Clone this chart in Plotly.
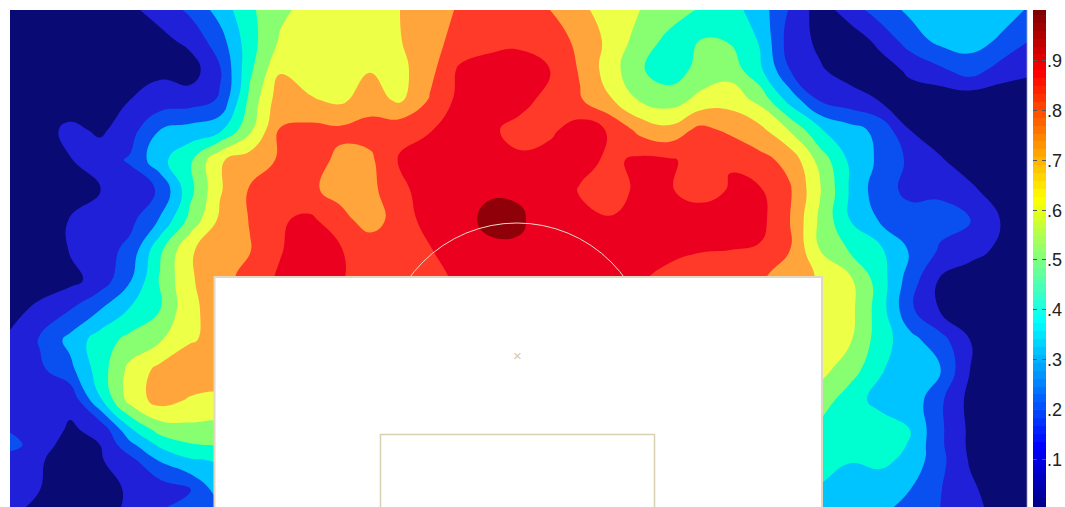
import plotly.graph_objects as go

# grid positions
x_pos = [10,40,70,100,130,160,190,220,250,280,310,340,370,400,430,460,490,520,550,580,610,640,670,700,730,760,790,820,850,880,910,940,970,1000,1030]
y_pos = [10,40,70,100,130,160,190,220,250,280,310,340,370,400,430,445,460,490,510]

# field values on an 11-band scale (band k spans k..k+1), divided by 11 for the 0-1 colour scale
row_010 = [.2,.2,.2,.3,.8,1.4,2.2,3.4,4.8,5.8,6.3,6.5,6.7,7.0,7.6,8.1,8.4,8.3,8.0,7.2,6.6,6.0,5.5,4.9,4.4,3.5,1.9,.5,1.5,2.5,3.2,3.5,3.6,3.4,2.9]
row_040 = [.1,.1,.1,.2,.4,.7,1.3,2.6,4.6,6.1,6.4,6.6,6.7,6.95,7.8,8.2,8.6,8.7,8.4,7.8,6.7,5.6,4.7,5.0,4.9,3.9,1.5,.8,.4,1.3,2.5,3.3,3.4,2.9,2.0]
row_070 = [.1,.1,.2,.4,.9,.8,.5,1.9,4.8,6.9,6.5,6.5,6.95,6.7,7.7,9.2,9.5,9.6,9.0,7.9,6.5,5.1,4.5,5.3,5.6,4.2,2.0,1.1,.6,.5,1.2,1.8,2.5,1.6,1.2]
row_100 = [.1,.1,.2,.4,1.0,1.4,1.5,2.1,5.3,7.6,7.1,6.8,7.5,6.8,8.1,9.3,9.6,9.4,8.6,8.1,7.1,5.9,5.5,6.3,6.6,5.7,3.6,1.9,1.4,.95,.5,.3,.3,.3,.3]
row_130 = [.1,.5,1.3,.8,1.6,3.0,3.4,3.8,5.8,8.05,8.3,8.2,8.4,8.7,8.95,9.4,9.2,8.6,8.8,9.5,8.9,7.7,7.3,8.3,7.8,7.3,5.9,4.1,3.4,2.7,1.0,.5,.3,.2,.2]
row_160 = [.1,.3,.95,1.6,2.1,3.7,4.8,6.9,7.5,8.1,8.4,7.8,7.8,9.1,9.5,9.6,9.4,9.2,9.4,9.4,8.8,9.2,9.1,8.7,8.92,8.3,7.7,5.6,3.8,2.8,1.8,1.1,.5,.3,.2]
row_190 = [.1,.1,.4,.95,1.5,2.1,4.7,6.9,8.1,8.5,8.2,7.6,7.7,8.8,9.4,9.7,9.85,9.9,9.5,8.9,8.4,9.3,9.1,8.4,9.1,9.1,8.1,6.1,3.9,2.4,1.75,1.85,1.2,.5,.3]
row_220 = [.1,.4,1.05,1.3,1.7,3.1,5.3,7.2,8.05,8.9,9.2,8.4,7.5,8.5,9.4,9.6,10.3,10.1,9.6,9.6,9.1,9.7,9.8,9.8,9.7,9.3,8.0,5.8,4.0,2.9,2.4,2.3,2.1,1.0,.3]
row_250 = [.1,.4,1.05,1.5,2.3,4.8,6.9,7.5,7.95,8.95,9.4,9.05,8.7,8.4,8.95,9.4,9.75,9.9,9.8,9.6,9.5,9.4,9.3,9.05,9.0,8.9,8.0,6.0,4.9,4.2,2.9,1.9,1.4,.8,.2]
row_280 = [.2,.4,.7,1.4,2.9,5.1,6.9,7.5,8.5,9.1,9.4,9.1,8.4,8.5,8.8,9.1,9.3,9.2,9.0,9.1,9.2,9.1,8.6,8.5,8.3,8.1,7.5,6.9,6.2,4.5,2.5,.9,.4,.2,.2]
row_310 = [.6,1.3,2.0,3.0,4.1,5.0,6.8,7.4,8.0,8.4,8.6,8.6,8.5,8.6,8.9,9.0,9.1,9.0,8.9,8.9,8.9,8.8,8.5,8.4,8.2,8.0,7.5,6.5,6.3,4.5,2.2,.95,.4,.2,.2]
row_340 = [1.2,2.1,3.3,4.5,5.3,5.9,6.9,7.3,7.9,8.2,8.3,8.3,8.3,8.4,8.6,8.7,8.8,8.7,8.6,8.6,8.6,8.5,8.3,8.2,8.0,7.8,7.3,6.5,6.1,4.5,3.35,2.4,1.0,.4,.3]
row_370 = [1.4,1.8,2.7,4.5,6.3,7.3,7.7,7.8,7.9,8.0,8.1,8.1,8.1,8.2,8.3,8.4,8.5,8.4,8.3,8.3,8.3,8.2,8.1,8.0,7.8,7.5,7.0,6.3,5.5,4.1,3.4,3.05,1.0,.5,.3]
row_400 = [1.3,1.4,1.2,3.9,6.4,7.4,6.9,6.7,7.2,7.6,7.9,7.9,7.9,8.0,8.1,8.2,8.2,8.2,8.1,8.1,8.0,8.0,7.9,7.7,7.5,7.2,6.8,5.6,4.4,3.7,3.7,2.2,.7,.4,.3]
row_430 = [1.9,1.4,.9,1.2,3.8,5.4,5.7,5.7,6.3,6.8,7.2,7.4,7.5,7.6,7.7,7.7,7.7,7.7,7.6,7.6,7.5,7.4,7.2,6.9,6.6,6.2,5.6,4.7,4.0,4.5,4.0,2.2,.8,.4,.3]
row_445 = [2.5,1.3,.7,1.0,2.7,4.2,4.9,5.1,5.6,6.1,6.6,6.9,7.0,7.1,7.2,7.2,7.2,7.2,7.1,7.1,7.0,6.9,6.7,6.3,6.0,5.6,5.0,4.5,4.0,4.7,3.9,2.2,.8,.4,.3]
row_460 = [1.3,1.1,.5,.9,1.7,3.1,3.9,4.1,4.9,5.4,5.9,6.3,6.5,6.6,6.7,6.7,6.7,6.7,6.6,6.5,6.4,6.2,5.9,5.6,5.3,5.0,4.6,4.4,4.05,4.3,3.7,2.3,.9,.4,.3]
row_490 = [1.1,1.0,.4,.7,1.1,1.4,1.95,3.5,4.1,4.6,5.1,5.4,5.6,5.7,5.8,5.8,5.8,5.8,5.7,5.6,5.5,5.3,5.0,4.8,4.6,4.4,4.1,3.9,3.6,3.3,3.0,2.05,1.2,.5,.3]
row_510 = [1.1,.85,.3,.6,1.2,2.0,2.7,3.0,3.5,4.0,4.5,4.8,5.0,5.1,5.2,5.2,5.2,5.2,5.1,5.0,4.9,4.7,4.5,4.3,4.1,3.9,3.6,3.5,3.3,3.15,2.7,2.0,1.3,.7,.3]
rows = [row_010,row_040,row_070,row_100,row_130,row_160,row_190,row_220,row_250,row_280,row_310,row_340,row_370,row_400,row_430,row_445,row_460,row_490,row_510]

band_colors = ["#0a0a74","#2020d8","#0a50f0","#00c4ff","#00ffd0","#88ff70","#eeff48","#ffa53c","#ff3a28","#ec0020","#900008"]
jet = [[0,"rgb(0,0,128)"],[.125,"rgb(0,0,255)"],[.375,"rgb(0,255,255)"],[.625,"rgb(255,255,0)"],[.875,"rgb(255,0,0)"],[1,"rgb(128,0,0)"]]
bar_steps = [i/63 for i in range(64)]
bar_ticks = [.1,.2,.3,.4,.5,.6,.7,.8,.9]
bar_labels = [".1",".2",".3",".4",".5",".6",".7",".8",".9"]

W, H = 1065, 507
z = [[v/11 for v in r] for r in rows]
n = len(band_colors)
fig = go.Figure()
fig.add_trace(go.Contour(
    x=x_pos, y=y_pos, z=z, xaxis="x", yaxis="y",
    zmin=0, zmax=1, autocontour=False,
    contours=dict(start=1/11, end=10/11+1e-6, size=1/11, coloring="fill", showlines=False),
    line=dict(width=0, smoothing=1.3),
    colorscale=[[i/(n-1), c] for i, c in enumerate(band_colors)],
    showscale=False, hoverinfo="skip"))
fig.add_trace(go.Heatmap(
    x=[0,1], y=bar_steps, z=[[v,v] for v in bar_steps], xaxis="x2", yaxis="y2",
    colorscale=jet, zmin=0, zmax=1, showscale=False, hoverinfo="skip"))

tan = "#e2d8bf"
fig.update_layout(
    width=W, height=H, margin=dict(l=0,r=0,t=0,b=0),
    paper_bgcolor="white", plot_bgcolor="white", showlegend=False,
    xaxis=dict(domain=[9/W,1028/W], range=[9,1028], showgrid=False, zeroline=False, showticklabels=False, ticks="", showline=False),
    yaxis=dict(domain=[0,(H-10)/H], range=[507,10], showgrid=False, zeroline=False, showticklabels=False, ticks="", showline=False),
    xaxis2=dict(domain=[1033/W,1046/W], range=[0,1], anchor="y2", showgrid=False, zeroline=False, showticklabels=False, ticks=""),
    yaxis2=dict(domain=[0,(H-10)/H], range=[0.004,1.002], anchor="x2", side="right", showgrid=False, zeroline=False,
                tickvals=bar_ticks, ticktext=bar_labels, ticks="inside", ticklen=4, tickcolor="#555", tickwidth=1,
                mirror="ticks", showline=False,
                tickfont=dict(family="Liberation Sans", size=18, color="#222")),
    shapes=[
        dict(type="line", xref="x", yref="y", x0=1027.5, x1=1027.5, y0=10, y1=507, line=dict(color=tan, width=1.5), layer="above"),
        dict(type="circle", xref="x", yref="y", x0=384, x1=650, y0=223, y1=489, line=dict(color="#e6dcc8", width=1), layer="above"),
        dict(type="rect", xref="x", yref="y", x0=214.5, x1=822, y0=277, y1=530, fillcolor="white", line=dict(color=tan, width=2), layer="above"),
        dict(type="rect", xref="x", yref="y", x0=380.5, x1=654.5, y0=434.5, y1=530, fillcolor="white", line=dict(color="#d9cfb2", width=1.5), layer="above"),
    ],
    annotations=[dict(x=517.5, y=355, xref="x", yref="y", text="×", showarrow=False,
                      font=dict(family="Liberation Sans", size=15, color="#d8c8a8"))],
)
fig.write_html("out.html", config=dict(displayModeBar=False),
               post_script="document.body.style.margin='0';document.body.style.overflow='hidden';")
